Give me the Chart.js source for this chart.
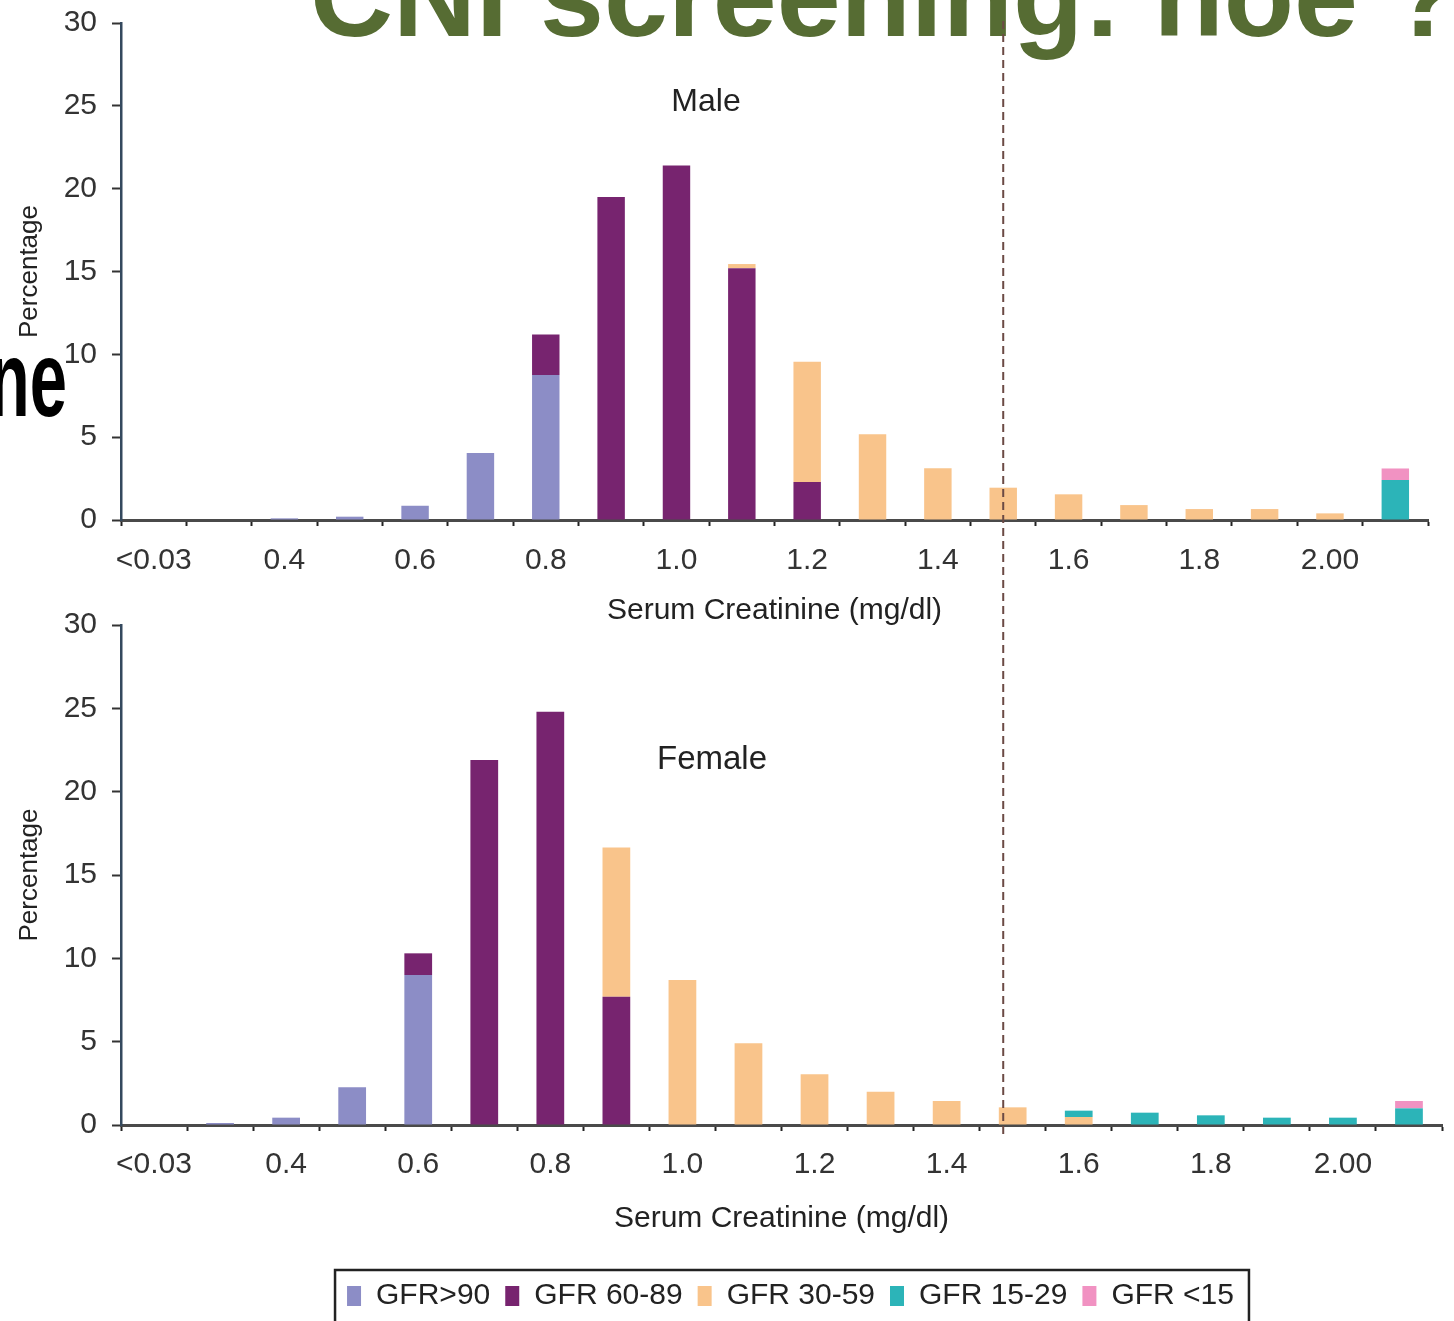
<!DOCTYPE html>
<html><head><meta charset="utf-8">
<script src="https://cdn.jsdelivr.net/npm/chart.js@4/dist/chart.umd.min.js"></script>
<style>
html,body{margin:0;padding:0;background:#fff;width:1454px;height:1321px;overflow:hidden;position:relative;font-family:'Liberation Sans',Arial,sans-serif;}
canvas{display:block;}
#c1{position:absolute;left:0;top:0;}
#c2{position:absolute;left:0;top:600px;}
#overlay{position:absolute;left:0;top:0;pointer-events:none;}
.t{position:absolute;white-space:nowrap;}
.lab{transform:translate(-50%,-50%);line-height:1;color:#222;}
</style></head><body>
<div class="t" style="left:310px;top:-61px;font-size:115px;line-height:115px;font-weight:bold;color:#566c33;">CNI screening: hoe ?</div>
<div class="t" style="left:-200px;width:267px;text-align:right;top:325px;font-size:108px;line-height:108px;font-weight:bold;color:#000;transform:scaleX(0.62);transform-origin:right center;">ne</div>
<canvas id="c1" width="1454" height="640"></canvas>
<canvas id="c2" width="1454" height="721"></canvas>
<canvas id="overlay" width="1454" height="1321"></canvas>
<div class="t lab" style="left:706px;top:100px;font-size:32px;">Male</div>
<div class="t lab" style="left:712px;top:757px;font-size:33px;">Female</div>
<script>
const categories = ['<0.03','0.3','0.4','0.5','0.6','0.7','0.8','0.9','1.0','1.1','1.2','1.3','1.4','1.5','1.6','1.7','1.8','1.9','2.0','>2.0'];
const tickLabels = ['<0.03','','0.4','','0.6','','0.8','','1.0','','1.2','','1.4','','1.6','','1.8','','2.00',''];
const seriesNames = ['GFR>90','GFR 60-89','GFR 30-59','GFR 15-29','GFR <15'];
const seriesColors = ['#8c8dc6','#77246f','#f9c48b','#2cb4b8','#f192c2'];
const yTicks = [0,5,10,15,20,25,30];

// Male (percentage per creatinine bin)
const maleGFR90   = [0,0,0.1,0.2,0.86,4.05,8.75,0,0,0,0,0,0,0,0,0,0,0,0,0];
const maleGFR6089 = [0,0,0,0,0,0,2.45,19.5,21.4,15.2,2.3,0,0,0,0,0,0,0,0,0];
const maleGFR3059 = [0,0,0,0,0,0,0,0,0,0.25,7.25,5.17,3.12,1.95,1.55,0.9,0.66,0.66,0.4,0];
const maleGFR1529 = [0,0,0,0,0,0,0,0,0,0,0,0,0,0,0,0,0,0,0,2.41];
const maleGFR15   = [0,0,0,0,0,0,0,0,0,0,0,0,0,0,0,0,0,0,0,0.7];

// Female
const femGFR90   = [0,0.12,0.44,2.26,9.0,0,0,0,0,0,0,0,0,0,0,0,0,0,0,0];
const femGFR6089 = [0,0,0,0,1.3,21.9,24.8,7.7,0,0,0,0,0,0,0,0,0,0,0,0];
const femGFR3059 = [0,0,0,0,0,0,0,8.95,8.7,4.9,3.04,2.0,1.44,1.06,0.48,0,0,0,0,0];
const femGFR1529 = [0,0,0,0,0,0,0,0,0,0,0,0,0,0,0.38,0.74,0.58,0.44,0.44,1.0];
const femGFR15   = [0,0,0,0,0,0,0,0,0,0,0,0,0,0,0,0,0,0,0,0.44];

const thresholdCategory = '1.5';

const FONT = "'Liberation Sans', Arial, sans-serif";
Chart.defaults.font.family = FONT;

const legendBox = {
  id: 'legendBox',
  afterLayout(chart) {
    const lg = chart.legend;
    if (lg) { lg.left += 9; lg.right += 9; }
  },
  afterDraw(chart) {
    const lg = chart.legend;
    if (!lg || !lg.legendHitBoxes || !lg.legendHitBoxes.length) return;
    const hb = lg.legendHitBoxes;
    const first = hb[0], last = hb[hb.length - 1];
    const ctx = chart.ctx;
    ctx.save();
    ctx.strokeStyle = '#222';
    ctx.lineWidth = 2.5;
    const l = first.left - 12, r = last.left + last.width + 15, t = first.top - 11;
    ctx.strokeRect(l, t, r - l, chart.height - t + 20);
    ctx.restore();
  }
};

function makeChart(id, series, o) {
  return new Chart(document.getElementById(id), {
    type: 'bar',
    data: {
      labels: categories,
      datasets: series.map((d, i) => ({
        label: seriesNames[i], data: d, backgroundColor: seriesColors[i],
        borderWidth: 0, barPercentage: 0.42, categoryPercentage: 1
      }))
    },
    options: {
      responsive: false, animation: false, events: [],
      layout: { padding: { top: o.top, right: o.right, left: 0, bottom: 0 } },
      plugins: {
        tooltip: { enabled: false },
        legend: {
          display: o.legend, position: 'bottom', fullSize: false,
          labels: { boxWidth: 14, boxHeight: 20, padding: 15, color: '#222', font: { size: 30, family: FONT } }
        }
      },
      scales: {
        x: {
          stacked: true,
          afterFit: s => { s.height = o.xh; },
          grid: { display: true, drawOnChartArea: false, drawTicks: true, tickLength: 6, tickWidth: 2, tickColor: '#222', offset: true },
          border: { display: true, color: '#4a4a4a', width: 3 },
          ticks: { autoSkip: false, maxRotation: 0, minRotation: 0, padding: o.xpad, color: '#333', font: { size: 30 }, callback: (v, i) => tickLabels[i] },
          title: { display: true, text: 'Serum Creatinine (mg/dl)', color: '#222', font: { size: 30 }, padding: { top: 0, bottom: o.titlePad } }
        },
        y: {
          stacked: true, min: 0, max: 30,
          afterFit: s => { s.width = 121; s.paddingTop = 0; s.paddingBottom = 0; },
          afterBuildTicks: s => { s.ticks = yTicks.map(v => ({ value: v })); },
          ticks: { padding: 15, color: '#333', font: { size: 30 } },
          grid: { display: true, drawOnChartArea: false, tickLength: 9, tickWidth: 2, tickColor: '#333' },
          border: { display: true, color: '#34495e', width: 2.5 },
          title: { display: true, text: 'Percentage', color: '#222', font: { size: 26 }, padding: { top: 14, bottom: 0 } }
        }
      }
    },
    plugins: o.legend ? [legendBox] : []
  });
}

const male = makeChart('c1', [maleGFR90, maleGFR6089, maleGFR3059, maleGFR1529, maleGFR15],
  { top: 23, right: 26, xh: 120, xpad: 17, titlePad: 11, legend: false });
const female = makeChart('c2', [femGFR90, femGFR6089, femGFR3059, femGFR1529, femGFR15],
  { top: 25, right: 12, xh: 141, xpad: 16, titlePad: 29, legend: true });

// Dashed threshold line spanning both panels, placed at the male chart's 1.5 category
const ov = document.getElementById('overlay').getContext('2d');
const lx = male.scales.x.getPixelForValue(categories.indexOf(thresholdCategory));
ov.strokeStyle = '#6b4a44';
ov.lineWidth = 2;
ov.setLineDash([8, 5]);
ov.beginPath();
ov.moveTo(lx, male.chartArea.top - 2);
ov.lineTo(lx, 600 + female.chartArea.bottom + 10);
ov.stroke();
</script>
</body></html>
